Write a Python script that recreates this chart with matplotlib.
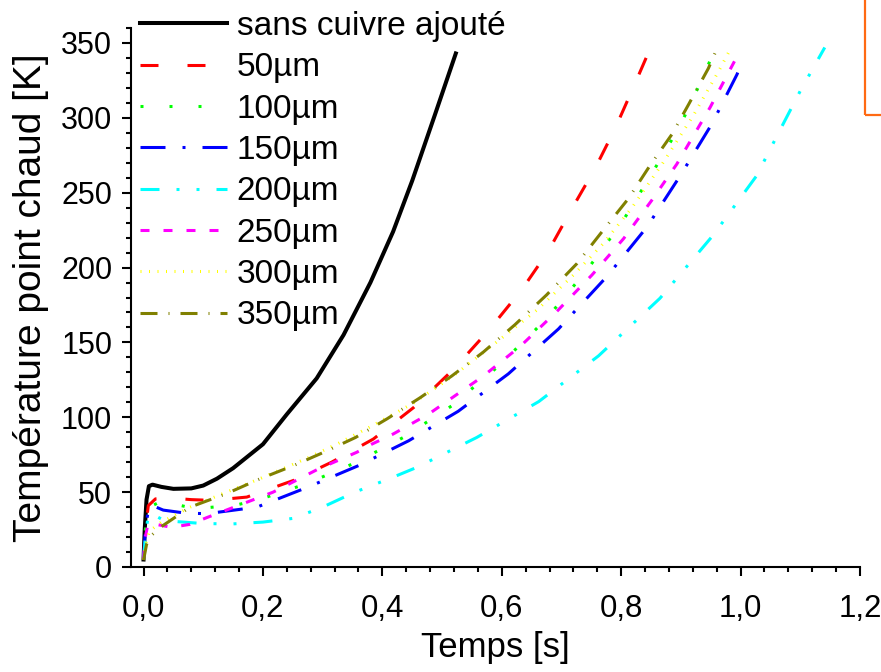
import matplotlib
matplotlib.use('Agg')
import matplotlib.pyplot as plt
from matplotlib.patches import Rectangle
from matplotlib.ticker import FixedLocator, FixedFormatter, MultipleLocator

plt.rcParams['font.family'] = ['Liberation Sans', 'DejaVu Sans']

# --- data ---
t_ref = [0.0, 0.002, 0.005, 0.009, 0.015, 0.03, 0.05, 0.08, 0.10, 0.123, 0.15, 0.2,
         0.24, 0.29, 0.335, 0.38, 0.418, 0.45, 0.488, 0.523]
T_ref = [5, 25, 45, 54, 55, 53.5, 52.2, 52.5, 54.4, 59, 66, 82,
         102, 126, 155, 190, 224, 258, 302, 343]

t_50 = [0.0, 0.003, 0.008, 0.02, 0.047, 0.08, 0.114, 0.173, 0.251, 0.315, 0.385,
        0.452, 0.519, 0.578, 0.634, 0.678, 0.717, 0.756, 0.79, 0.82, 0.845]
T_50 = [5, 25, 41, 45.5, 46, 45, 44.5, 46.7, 57.8, 70, 85.5,
        106.4, 132, 158, 185.5, 211, 239, 266, 293, 320, 343]

t_100 = [0.0, 0.003, 0.01, 0.03, 0.072, 0.111, 0.153, 0.192, 0.273, 0.354, 0.435,
         0.516, 0.594, 0.673, 0.742, 0.801, 0.851, 0.899, 0.938, 0.955]
T_100 = [5, 25, 40, 44, 40.2, 39.8, 41.2, 44.8, 55.6, 69.5, 86.5,
         107.6, 134, 165, 198, 230, 262.5, 295, 328, 344]

t_150 = [0.0, 0.003, 0.008, 0.012, 0.033, 0.07, 0.106, 0.19, 0.273, 0.36, 0.444,
         0.527, 0.611, 0.695, 0.776, 0.843, 0.899, 0.952, 0.994, 1.005]
T_150 = [5, 25, 38, 41.5, 38, 36, 35.6, 40, 53, 67.7, 84.3,
         104, 129, 159, 194, 227, 261.4, 296, 329, 340]

t_200 = [0.0, 0.003, 0.007, 0.012, 0.03, 0.05, 0.1, 0.15, 0.2, 0.251, 0.3, 0.354,
         0.418, 0.458, 0.558, 0.662, 0.762, 0.865, 0.954, 1.027, 1.061, 1.1, 1.141]
T_200 = [5, 20, 32, 36, 32, 30.5, 29, 28.8, 30, 32.5, 40, 50,
         60, 66.6, 86.5, 110.5, 141, 179.5, 221.6, 261.4, 288, 318, 347]

t_250 = [0.0, 0.003, 0.007, 0.014, 0.047, 0.078, 0.106, 0.217, 0.293, 0.357, 0.382,
         0.418, 0.477, 0.569, 0.631, 0.692, 0.751, 0.804, 0.851, 0.893, 0.949, 0.998]
T_250 = [5, 20, 28, 29, 26.5, 28.5, 33, 50, 65.5, 76.6, 82,
         88.8, 102, 127.5, 147.4, 170.6, 195, 219.3, 244.8, 269, 307, 344]

t_300 = [0.0, 0.005, 0.01, 0.03, 0.078, 0.139, 0.195, 0.273, 0.326, 0.379, 0.45,
         0.52, 0.597, 0.66, 0.72, 0.77, 0.818, 0.87, 0.92, 0.963, 0.983]
T_300 = [5, 18, 24, 30, 40, 50, 59, 72.5, 82.5, 93.5, 109,
         128, 152, 172, 195, 216, 240, 270, 301, 331, 346]

t_350 = [0.0, 0.005, 0.01, 0.03, 0.078, 0.139, 0.195, 0.251, 0.304, 0.355, 0.408,
         0.463, 0.516, 0.569, 0.622, 0.675, 0.726, 0.770, 0.812, 0.848, 0.885,
         0.913, 0.946, 0.958]
T_350 = [4.6, 15, 20, 27, 40, 49, 58.9, 67.7, 77, 86.5, 99,
         113, 127.5, 143.5, 161.8, 181.7, 202.7, 225, 246, 268, 289,
         309, 333, 344]

labels = ['sans cuivre ajouté', '50µm', '100µm', '150µm', '200µm',
          '250µm', '300µm', '350µm']
xticks = [0.0, 0.2, 0.4, 0.6, 0.8, 1.0, 1.2]
xtick_labels = ['0,0', '0,2', '0,4', '0,6', '0,8', '1,0', '1,2']
yticks = [0, 50, 100, 150, 200, 250, 300, 350]


def dash(px, lw):
    # dash pattern given in pixels -> units of linewidth
    return (0, tuple(p * 0.72 / lw for p in px))


LW = 2.2
series = [
    (t_ref, T_ref, 'black', 2.9, '-'),
    (t_50, T_50, '#ff0000', LW, dash([18, 29], LW)),
    (t_100, T_100, '#00ff00', LW, dash([3, 26], LW)),
    (t_150, T_150, '#0000ff', LW, dash([25, 17, 3, 17], LW)),
    (t_200, T_200, '#00ffff', LW, dash([19, 17, 3, 17, 3, 17], LW)),
    (t_250, T_250, '#ff00ff', LW, dash([9, 14], LW)),
    (t_300, T_300, '#ffff00', LW, dash([1, 7.5], LW)),
    (t_350, T_350, '#808000', LW, dash([17, 11, 1, 11], LW)),
]

fig = plt.figure(figsize=(8.81, 6.72), dpi=100)
ax = fig.add_axes([131 / 881, 1 - 567 / 672, (860 - 131) / 881, (567 - 28) / 672])

for (t, T, c, lw, ls), lab in zip(series, labels):
    ax.plot(t, T, color=c, lw=lw, linestyle=ls, label=lab)

ax.set_xlim(-0.021, 1.2)
ax.set_ylim(0, 360)

for s in ['top', 'right']:
    ax.spines[s].set_visible(False)
for s in ['left', 'bottom']:
    ax.spines[s].set_linewidth(1.5)

ax.xaxis.set_major_locator(FixedLocator(xticks))
ax.xaxis.set_major_formatter(FixedFormatter(xtick_labels))
ax.xaxis.set_minor_locator(MultipleLocator(0.04))
ax.yaxis.set_major_locator(FixedLocator(yticks))
ax.yaxis.set_minor_locator(MultipleLocator(10))
ax.tick_params(which='major', direction='out', length=6.5, width=1.5)
ax.tick_params(which='minor', direction='out', length=3.5, width=1.5)
ax.tick_params(axis='x', which='major', labelsize=22.5, pad=13)
ax.tick_params(axis='y', which='major', labelsize=22, pad=7)

ax.set_xlabel('Temps [s]', fontsize=25)
ax.set_ylabel('Température point chaud [K]', fontsize=28)
ax.xaxis.set_label_coords(0.5, -0.118)
ax.yaxis.set_label_coords(-0.112, 0.5)

ax.legend(loc='upper left', bbox_to_anchor=(140 / 881, 1 - 11 / 672),
          bbox_transform=fig.transFigure, frameon=False, fontsize=24,
          borderpad=0, borderaxespad=0, handlelength=2.6,
          handletextpad=0.3, labelspacing=0.31)

# orange frame cut by the right edge of the picture
fig.add_artist(Rectangle((865 / 881, 1 - 115 / 672), 0.2, 0.3,
                         transform=fig.transFigure, fill=False,
                         edgecolor='#ff6a13', lw=1.6))

fig.savefig('out.png', dpi=100)
